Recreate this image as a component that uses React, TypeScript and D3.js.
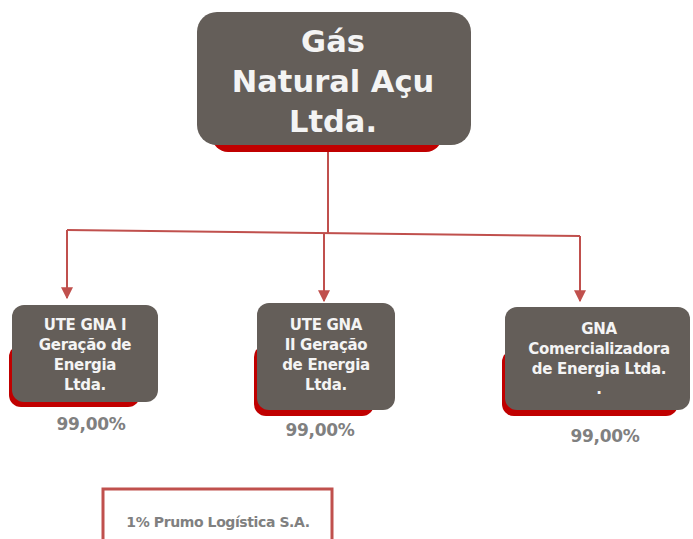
import { useEffect, useRef } from "react";
import * as d3 from "d3";

// org chart content
const parentName = ["Gás", "Natural Açu", "Ltda."];
const childNames = [
  ["UTE GNA I", "Geração de", "Energia", "Ltda."],
  ["UTE GNA", "II Geração", "de Energia", "Ltda."],
  ["GNA", "Comercializadora", "de Energia Ltda.", "."],
];
const childShares = [99, 99, 99];
const minorityNote = "1% Prumo Logística S.A.";

const W = 693;
const H = 539;
const GRAY = "#645e59";
const SHADOW = "#c00000";
const LINE = "#c0504d";

// box geometry (layout only)
const parentBox = { x: 197, y: 12, w: 274, h: 133 };
const childBoxes = [
  { x: 12, y: 305, w: 146, h: 97, cx: 85, sx: 9, sy: 345, sw: 131, sb: 407, px: 91, py: 430 },
  { x: 257, y: 303, w: 138, h: 107, cx: 326, sx: 254, sy: 345, sw: 120, sb: 416, px: 320, py: 436 },
  { x: 505, y: 307, w: 185, h: 103, cx: 599, sx: 502, sy: 350, sw: 176, sb: 416, px: 605, py: 442 },
];
const arrowX = [67, 324, 580];

const ptBR = d3.formatLocale({ decimal: ",", thousands: ".", grouping: [3], currency: ["R$", ""] });
const fmt = ptBR.format(".2f");

function OrgChart() {
  const ref = useRef<SVGSVGElement>(null);

  useEffect(() => {
    const svg = d3.select(ref.current);
    svg.selectAll("*").remove();

    svg.append("defs").append("marker")
      .attr("id", "arr")
      .attr("viewBox", "0 0 10 10")
      .attr("refX", 9).attr("refY", 5)
      .attr("markerWidth", 6).attr("markerHeight", 6)
      .attr("orient", "auto")
      .append("path")
      .attr("d", "M0,0 L10,5 L0,10 Z")
      .attr("fill", LINE);

    // connectors
    const yAt = d3.scaleLinear().domain([arrowX[0], arrowX[2]]).range([230, 236]);
    const g = svg.append("g").attr("stroke", LINE).attr("stroke-width", 2).attr("fill", "none");
    g.append("line").attr("x1", 328).attr("y1", parentBox.y + parentBox.h + 6).attr("x2", 328).attr("y2", yAt(328));
    g.append("line").attr("x1", arrowX[0]).attr("y1", yAt(arrowX[0])).attr("x2", arrowX[2]).attr("y2", yAt(arrowX[2]));
    g.selectAll("line.arrow").data(arrowX).join("line")
      .attr("class", "arrow")
      .attr("x1", (d) => d).attr("y1", (d) => yAt(d))
      .attr("x2", (d) => d).attr("y2", (d, i) => (i === 0 ? 298 : 301))
      .attr("marker-end", "url(#arr)");

    // parent box
    svg.append("rect")
      .attr("x", parentBox.x + 15).attr("y", parentBox.y + 40)
      .attr("width", parentBox.w - 44).attr("height", parentBox.h - 33)
      .attr("rx", 16).attr("fill", SHADOW);
    svg.append("rect")
      .attr("x", parentBox.x).attr("y", parentBox.y)
      .attr("width", parentBox.w).attr("height", parentBox.h)
      .attr("rx", 20).attr("fill", GRAY);
    svg.append("g").selectAll("text").data(parentName).join("text")
      .attr("x", parentBox.x + parentBox.w / 2 - 1)
      .attr("y", (_, i) => 52 + i * 40)
      .attr("text-anchor", "middle")
      .attr("font-family", "DejaVu Sans")
      .attr("font-weight", "bold")
      .attr("font-size", 30.5)
      .attr("fill", "#f4f4f4")
      .text((d) => d);

    // child boxes
    const nodes = svg.selectAll("g.child").data(childBoxes).join("g").attr("class", "child");
    nodes.append("rect")
      .attr("x", (d) => d.sx).attr("y", (d) => d.sy)
      .attr("width", (d) => d.sw).attr("height", (d) => d.sb - d.sy)
      .attr("rx", 12).attr("fill", SHADOW);
    nodes.append("rect")
      .attr("x", (d) => d.x).attr("y", (d) => d.y)
      .attr("width", (d) => d.w).attr("height", (d) => d.h)
      .attr("rx", 12).attr("fill", GRAY);
    nodes.each(function (d, i) {
      d3.select(this).selectAll("text.name").data(childNames[i]).join("text")
        .attr("class", "name")
        .attr("x", d.cx)
        .attr("y", (_, j) => d.y + 27 + (i === 0 ? -2 : 0) + j * 20)
        .attr("text-anchor", "middle")
        .attr("font-family", "DejaVu Sans")
        .attr("font-weight", "bold")
        .attr("font-size", 15)
        .attr("letter-spacing", -0.3)
        .attr("fill", "#f4f4f4")
        .text((t) => t);
      d3.select(this).append("text")
        .attr("x", d.px).attr("y", d.py)
        .attr("text-anchor", "middle")
        .attr("font-family", "DejaVu Sans")
        .attr("font-weight", "bold")
        .attr("font-size", 17)
        .attr("letter-spacing", -0.3)
        .attr("fill", "#808080")
        .text(fmt(childShares[i]) + "%");
    });

    // minority shareholder note
    svg.append("rect")
      .attr("x", 103).attr("y", 489).attr("width", 229).attr("height", 80)
      .attr("fill", "#fff").attr("stroke", LINE).attr("stroke-width", 3);
    svg.append("text")
      .attr("x", 218).attr("y", 527)
      .attr("text-anchor", "middle")
      .attr("font-family", "DejaVu Sans")
      .attr("font-weight", "bold")
      .attr("font-size", 14)
      .attr("letter-spacing", -0.4)
      .attr("fill", "#808080")
      .text(minorityNote);
  }, []);

  return (
    <svg ref={ref} width={W} height={H}
      style={{ position: "absolute", left: 0, top: 0, background: "#fff" }} />
  );
}

export default function App() {
  return <OrgChart />;
}
